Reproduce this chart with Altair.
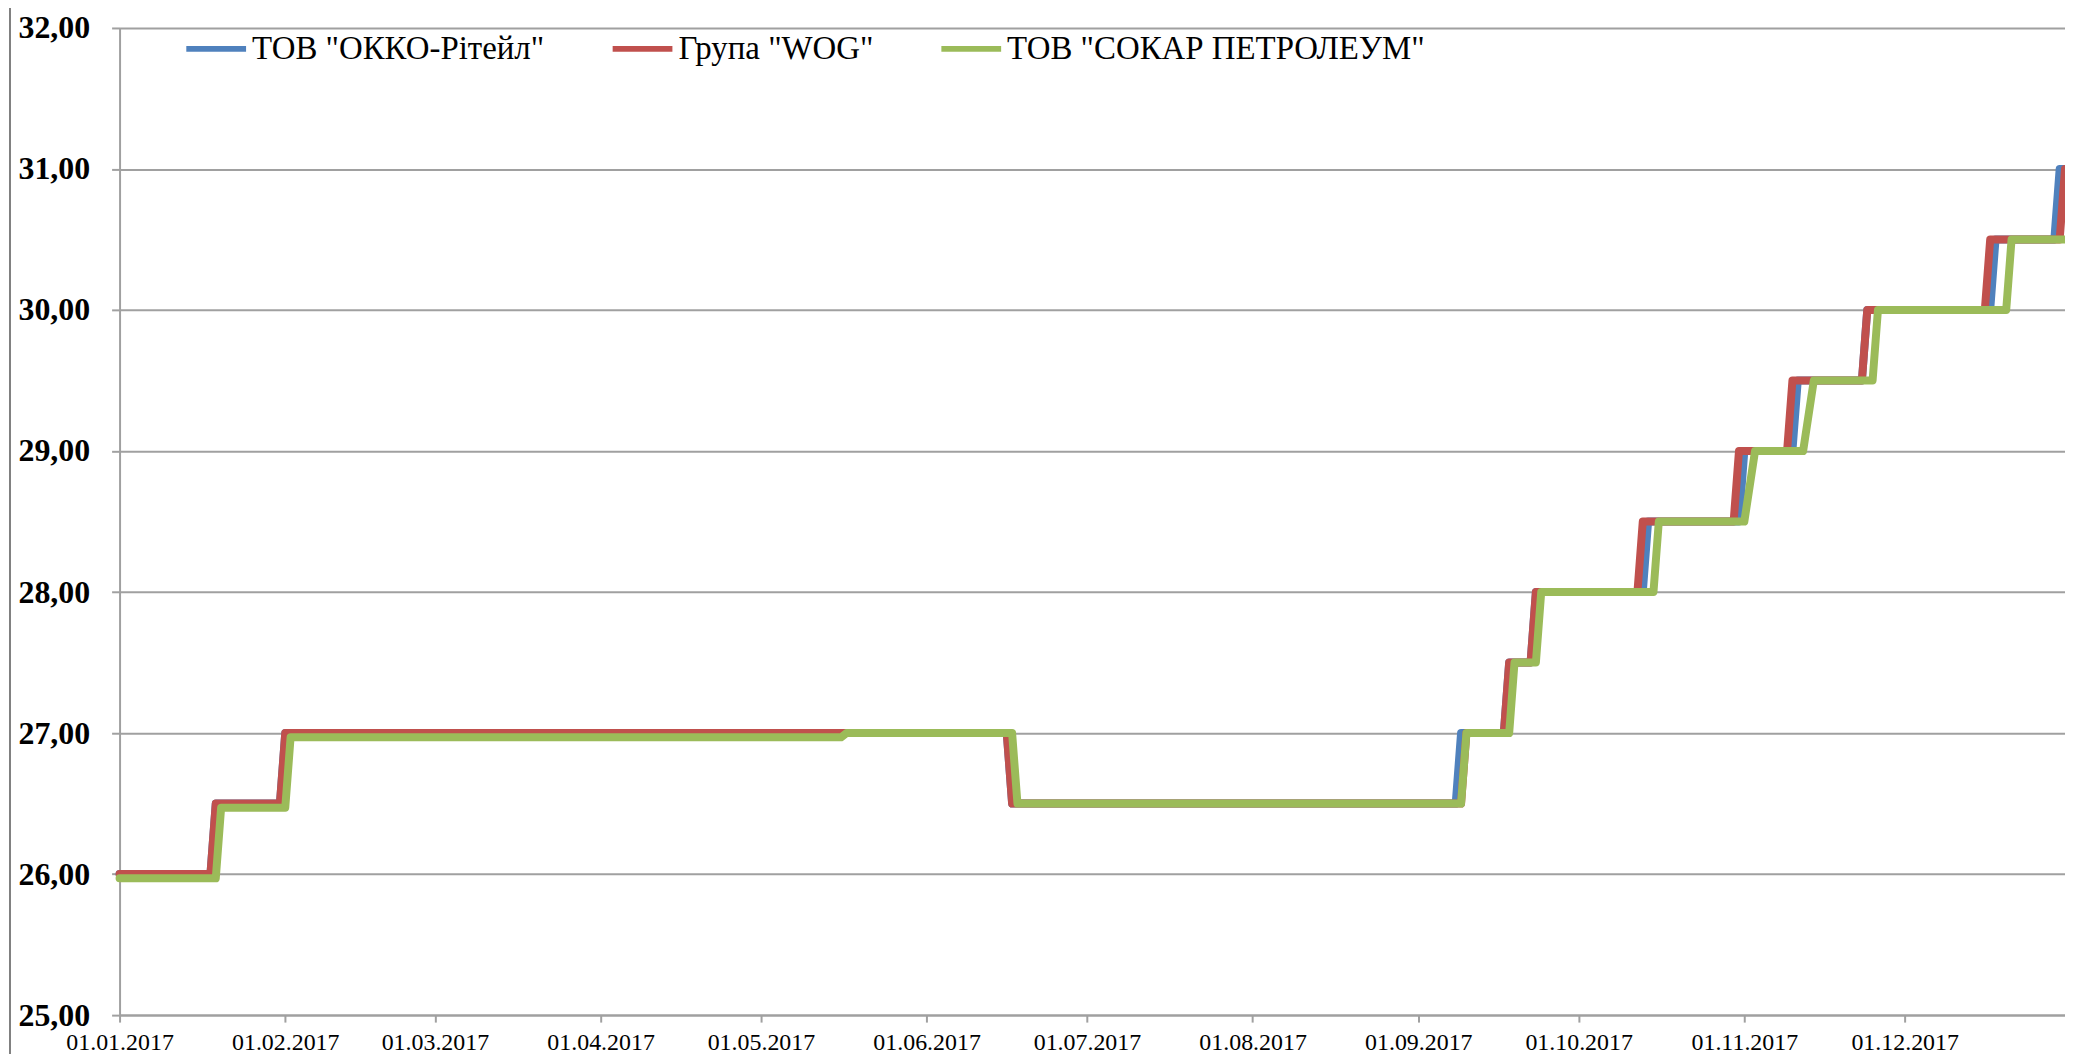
import altair as alt
import pandas as pd

series_names = ['ТОВ "ОККО-Рітейл"', 'Група "WOG"', 'ТОВ "СОКАР ПЕТРОЛЕУМ"']
series_colors = ["#4F81BD", "#C0504D", "#9BBB59"]

okko_dates = ["2017-01-01", "2017-01-18", "2017-01-19", "2017-01-31", "2017-02-01",
              "2017-06-16", "2017-06-17", "2017-09-08", "2017-09-09", "2017-09-17",
              "2017-09-18", "2017-09-22", "2017-09-23", "2017-10-13", "2017-10-14",
              "2017-10-31", "2017-11-01", "2017-11-10", "2017-11-11", "2017-11-23",
              "2017-11-24", "2017-12-17", "2017-12-18", "2017-12-29", "2017-12-30",
              "2017-12-31"]
okko_values = [26.00, 26.00, 26.50, 26.50, 27.00,
               27.00, 26.50, 26.50, 27.00, 27.00,
               27.50, 27.50, 28.00, 28.00, 28.50,
               28.50, 29.00, 29.00, 29.50, 29.50,
               30.00, 30.00, 30.50, 30.50, 31.00,
               31.00]

wog_dates = ["2017-01-01", "2017-01-18", "2017-01-19", "2017-01-31", "2017-02-01",
             "2017-06-16", "2017-06-17", "2017-09-09", "2017-09-10", "2017-09-17",
             "2017-09-18", "2017-09-22", "2017-09-23", "2017-10-12", "2017-10-13",
             "2017-10-30", "2017-10-31", "2017-11-09", "2017-11-10", "2017-11-23",
             "2017-11-24", "2017-12-16", "2017-12-17", "2017-12-30", "2017-12-31"]
wog_values = [26.00, 26.00, 26.50, 26.50, 27.00,
              27.00, 26.50, 26.50, 27.00, 27.00,
              27.50, 27.50, 28.00, 28.00, 28.50,
              28.50, 29.00, 29.00, 29.50, 29.50,
              30.00, 30.00, 30.50, 30.50, 31.00]

socar_dates = ["2017-01-01", "2017-01-19", "2017-01-20", "2017-02-01", "2017-02-02",
               "2017-05-16", "2017-05-17", "2017-06-17", "2017-06-18", "2017-09-09",
               "2017-09-10", "2017-09-18", "2017-09-19", "2017-09-23", "2017-09-24",
               "2017-10-15", "2017-10-16", "2017-11-01", "2017-11-03", "2017-11-12",
               "2017-11-14", "2017-11-25", "2017-11-26", "2017-12-20", "2017-12-21",
               "2017-12-31"]
socar_values = [25.97, 25.97, 26.47, 26.47, 26.97,
                26.97, 27.00, 27.00, 26.50, 26.50,
                27.00, 27.00, 27.50, 27.50, 28.00,
                28.00, 28.50, 28.50, 29.00, 29.00,
                29.50, 29.50, 30.00, 30.00, 30.50,
                30.50]

y_ticks = [25, 26, 27, 28, 29, 30, 31, 32]
x_tick_months = list(range(1, 13))

rows = []
for name, ds, vs in zip(series_names, [okko_dates, wog_dates, socar_dates],
                        [okko_values, wog_values, socar_values]):
    for d, v in zip(ds, vs):
        rows.append({"date": d + "T00:00:00", "price": v, "series": name})
df = pd.DataFrame(rows)

FONT = "Liberation Serif"
GRID = "#A0A0A0"

x_enc = alt.X(
    "date:T",
    scale=alt.Scale(domain=[alt.DateTime(year=2017, month=1, date=1),
                            alt.DateTime(year=2017, month=12, date=31)]),
    axis=alt.Axis(
        values=[alt.DateTime(year=2017, month=m, date=1) for m in x_tick_months],
        format="%d.%m.%Y", labelFont=FONT, labelFontSize=24, labelColor="black",
        tickSize=7, tickColor=GRID, tickWidth=2, domainColor=GRID, domainWidth=2,
        labelPadding=9, grid=False, title=None, labelAngle=0,
        labelOverlap=False, labelFlush=False),
)
y_enc = alt.Y(
    "price:Q",
    scale=alt.Scale(domain=[25, 32], nice=False, zero=False),
    axis=alt.Axis(
        values=y_ticks,
        labelExpr="replace(format(datum.value, '.2f'), '.', ',')",
        labelFont=FONT, labelFontSize=32, labelFontWeight="bold", labelColor="black",
        tickSize=8, tickColor=GRID, tickWidth=2, labelPadding=22,
        grid=True, gridColor=GRID, gridWidth=2, domainColor=GRID, domainWidth=2,
        title=None),
)
color_enc = alt.Color(
    "series:N",
    scale=alt.Scale(domain=series_names, range=series_colors),
    legend=alt.Legend(
        orient="none", legendX=64, legendY=-12, direction="horizontal", title=None,
        symbolType="stroke", symbolSize=3600, symbolStrokeWidth=6,
        labelFont=FONT, labelFontSize=33, labelColor="black", labelLimit=0,
        columnPadding=56, labelOffset=3, padding=0),
)

base = alt.Chart(df).mark_line(strokeWidth=8, strokeJoin="round", strokeCap="round").encode(
    x=x_enc, y=y_enc, color=color_enc, order="date:T")

layers = [base.transform_filter(alt.datum.series == n) for n in series_names]

border = alt.Chart(pd.DataFrame({"a": [0]})).mark_rule(
    color="#808080", strokeWidth=2).encode(
    x=alt.value(-110), y=alt.value(-26), y2=alt.value(1040))

chart = alt.layer(*layers, border).properties(
    width=1953, height=991,
    autosize=alt.AutoSizeParams(type="none"),
    padding={"left": 112, "top": 18, "right": 0, "bottom": 40},
).configure_view(strokeWidth=0)

chart.save("out.html", embed_options={"renderer": "svg", "actions": False})
